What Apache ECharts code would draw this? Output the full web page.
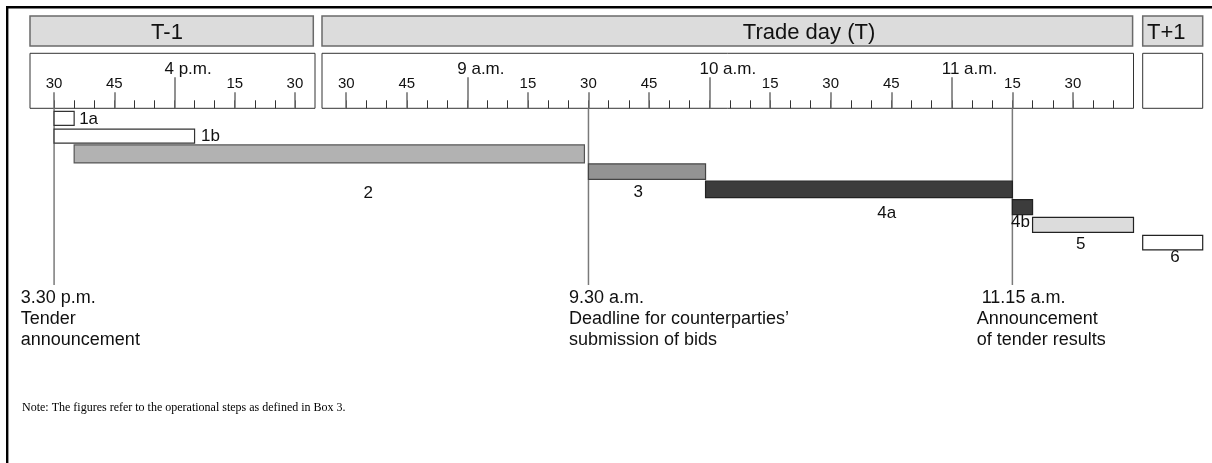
<!DOCTYPE html>
<html>
<head>
<meta charset="utf-8">
<script src="https://cdn.jsdelivr.net/npm/echarts@6/dist/echarts.min.js"></script>
<style>
html,body{margin:0;padding:0;background:#fff;}
#c{width:1212px;height:463px;}
</style>
</head>
<body>
<div id="c"></div>
<script>
// ================= DATA =================
const dayKeys   = ['T-1', 'T', 'T+1'];
const dayTitles = ['T-1', 'Trade day (T)', 'T+1'];

// visible time window of each day column on the ruler
const t1Range = ['15:24', '16:35'];
const tRange  = ['08:24', '11:45'];

// ruler ticks and labels
const t1QuarterTicks  = ['15:30', '15:45', '16:15', '16:30'];
const t1QuarterLabels = ['30', '45', '15', '30'];
const t1HourTicks     = ['16:00'];
const t1HourLabels    = ['4 p.m.'];
const tQuarterTicks   = ['08:30', '08:45', '09:15', '09:30', '09:45', '10:15', '10:30', '10:45', '11:15', '11:30'];
const tQuarterLabels  = ['30', '45', '15', '30', '45', '15', '30', '45', '15', '30'];
const tHourTicks      = ['09:00', '10:00', '11:00'];
const tHourLabels     = ['9 a.m.', '10 a.m.', '11 a.m.'];
const t1MinorSpan     = ['15:30', '16:30'];
const tMinorSpan      = ['08:30', '11:40'];
const minorStepMin    = 5;

// operational steps (T+1 step spans the whole settlement-day column)
const steps     = ['1a', '1b', '2', '3', '4a', '4b', '5', '6'];
const startDay  = ['T-1', 'T-1', 'T-1', 'T', 'T', 'T', 'T', 'T+1'];
const startTime = ['15:30', '15:30', '15:35', '09:30', '09:59', '11:15', '11:20', null];
const endDay    = ['T-1', 'T-1', 'T', 'T', 'T', 'T', 'T', 'T+1'];
const endTime   = ['15:35', '16:05', '09:29', '09:59', '11:15', '11:20', '11:45', null];

// milestones
const eventDay  = ['T-1', 'T', 'T'];
const eventTime = ['15:30', '09:30', '11:15'];
const eventText = [
  ['3.30 p.m.', 'Tender', 'announcement'],
  ['9.30 a.m.', 'Deadline for counterparties\u2019', 'submission of bids'],
  [' 11.15 a.m.', 'Announcement', 'of tender results']
];
const noteText = 'Note: The figures refer to the operational steps as defined in Box 3.';

// ================= LAYOUT / STYLE =================
const FONT  = '"Liberation Sans", Arial, Helvetica, sans-serif';
const SERIF = '"Liberation Serif", "Times New Roman", serif';
const cols = {
  'T-1': { left: 30,     width: 285 },
  'T':   { left: 322,    width: 811.5 },
  'T+1': { left: 1142.7, width: 60 }
};
const header = { top: 16, height: 30, widths: { 'T-1': 283.3, 'T': 810.6, 'T+1': 60 } };
const headerText = { 'T-1': { x: 167, align: 'center' }, 'T': { x: 809, align: 'center' }, 'T+1': { x: 1147, align: 'left' } };
const ruler = { top: 53.3, height: 55 };
const rulerBottom = ruler.top + ruler.height;
const barsArea = { top: 109.5, height: 142 };
const hourLabelLeadMin = 2.5;
const eventLineBottom = 285;
const eventTextTop = 287.5;
const eventTextShift = [-33.3, -19.5, -35.7];

const stepStyle = {
  '1a': { fill: '#ffffff', stroke: '#333333', h: 14 },
  '1b': { fill: '#ffffff', stroke: '#333333', h: 14 },
  '2':  { fill: '#b2b2b2', stroke: '#555555', h: 18 },
  '3':  { fill: '#939393', stroke: '#444444', h: 15.5 },
  '4a': { fill: '#3c3c3c', stroke: '#222222', h: 16.5 },
  '4b': { fill: '#3c3c3c', stroke: '#222222', h: 15 },
  '5':  { fill: '#dcdcdc', stroke: '#222222', h: 15 },
  '6':  { fill: '#ffffff', stroke: '#222222', h: 14.5 }
};
const stepLabel = {
  '1a': { pos: 'right', dx: 5,    dy: 0.5 },
  '1b': { pos: 'right', dx: 6.5,  dy: 0.5 },
  '2':  { pos: 'below', dx: 39,   dy: 39.5 },
  '3':  { pos: 'below', dx: -8.7, dy: 20.8 },
  '4a': { pos: 'below', dx: 27.7, dy: 24 },
  '4b': { pos: 'below', dx: -2,   dy: 15.6 },
  '5':  { pos: 'below', dx: -2.2, dy: 19.8 },
  '6':  { pos: 'below', dx: 2.4,  dy: 14.7 }
};

// ================= HELPERS =================
const toMin = s => { const p = s.split(':').map(Number); return p[0] * 60 + p[1]; };
function stepValues(span) {
  const out = [];
  for (let v = toMin(span[0]); v <= toMin(span[1]); v += minorStepMin) out.push(v);
  return out;
}
const chart = echarts.init(document.getElementById('c'), null, { renderer: 'canvas' });
const baseAxisIndex = { 'T-1': 0, 'T': 3, 'T+1': 6 };
function px(day, time, which) {
  const v = day === 'T+1' ? (which === 'end' ? 1 : 0) : toMin(time);
  return chart.convertToPixel({ xAxisIndex: baseAxisIndex[day] }, v);
}

function rulerAxes(gridIndex, range, qTicks, qLabels, hTicks, hLabels, minorSpan) {
  const min = toMin(range[0]), max = toMin(range[1]);
  const qMap = {}; qTicks.forEach((t, i) => { qMap[toMin(t)] = qLabels[i]; });
  const hMap = {}; hTicks.forEach((t, i) => { hMap[toMin(t) - hourLabelLeadMin] = hLabels[i]; });
  const common = {
    gridIndex, type: 'value', min, max, position: 'bottom',
    axisLine: { show: false, onZero: false }, splitLine: { show: false }
  };
  return [
    Object.assign({}, common, {
      axisTick: { show: true, inside: true, length: 8, customValues: stepValues(minorSpan),
        lineStyle: { color: '#333', width: 1 } },
      axisLabel: { show: false }
    }),
    Object.assign({}, common, {
      axisTick: { show: true, inside: true, length: 16, customValues: qTicks.map(toMin),
        lineStyle: { color: '#6e6e6e', width: 1.5 } },
      axisLabel: { show: true, inside: true, margin: 17, customValues: qTicks.map(toMin),
        formatter: v => qMap[v] || '', color: '#111', fontSize: 15, fontFamily: FONT, align: 'center' }
    }),
    Object.assign({}, common, {
      axisTick: { show: true, inside: true, length: 31, customValues: hTicks.map(toMin),
        lineStyle: { color: '#6e6e6e', width: 1.5 } },
      axisLabel: { show: true, inside: true, margin: 30, customValues: hTicks.map(t => toMin(t) - hourLabelLeadMin),
        formatter: v => hMap[v] || '', color: '#111', fontSize: 17, fontFamily: FONT, align: 'left' }
    })
  ];
}

// ================= OPTION =================
const grids = dayKeys.map(k => ({
  left: cols[k].left, top: ruler.top, width: cols[k].width, height: ruler.height,
  show: true, borderColor: '#333', borderWidth: 1, backgroundColor: '#fff',
  containLabel: false, outerBoundsMode: 'none'
}));
grids.push({ left: 0, top: barsArea.top, width: 1212, height: barsArea.height, containLabel: false, outerBoundsMode: 'none' });

const xAxes = []
  .concat(rulerAxes(0, t1Range, t1QuarterTicks, t1QuarterLabels, t1HourTicks, t1HourLabels, t1MinorSpan))
  .concat(rulerAxes(1, tRange, tQuarterTicks, tQuarterLabels, tHourTicks, tHourLabels, tMinorSpan))
  .concat([{ gridIndex: 2, type: 'value', min: 0, max: 1, show: false, splitLine: { show: false } }])
  .concat([{ gridIndex: 3, type: 'value', min: 0, max: 1, show: false, splitLine: { show: false } }]);

const yAxes = [0, 1, 2].map(g => ({ gridIndex: g, type: 'value', min: 0, max: 1, show: false, splitLine: { show: false } }));
yAxes.push({ gridIndex: 3, type: 'category', data: steps, inverse: true, show: false });

const graphics = [
  { type: 'rect', silent: true, z: 0, shape: { x: 7.2, y: 7.2, width: 1260, height: 520 },
    style: { fill: 'none', stroke: '#000', lineWidth: 2.4 } }
];
dayKeys.forEach((k, i) => {
  graphics.push({ type: 'rect', silent: true, z: 1,
    shape: { x: cols[k].left, y: header.top, width: header.widths[k], height: header.height },
    style: { fill: '#dcdcdc', stroke: '#6a6a6a', lineWidth: 1.5 } });
  graphics.push({ type: 'text', silent: true, z: 2, x: headerText[k].x, y: header.top + header.height / 2 + 1.5,
    style: { text: dayTitles[i], fill: '#111', font: '22px ' + FONT, align: headerText[k].align, verticalAlign: 'middle' } });
});
graphics.push({ type: 'text', silent: true, z: 2, x: 22, y: 408,
  style: { text: noteText, fill: '#000', font: '12px ' + SERIF, align: 'left', verticalAlign: 'middle' } });

function renderEvent(params, api) {
  const i = params.dataIndex;
  const x = px(eventDay[i], eventTime[i]);
  return { type: 'group', children: [
    { type: 'line', shape: { x1: x, y1: rulerBottom, x2: x, y2: eventLineBottom },
      style: { stroke: '#7a7a7a', lineWidth: 1.5 } },
    { type: 'text', x: x + eventTextShift[i], y: eventTextTop,
      style: { text: eventText[i].join('\n'), fill: '#111', font: '18px ' + FONT, lineHeight: 21,
               align: 'left', verticalAlign: 'top' } }
  ] };
}

function renderBar(params, api) {
  const i = params.dataIndex;
  const key = steps[i];
  const x0 = px(startDay[i], startTime[i], 'start');
  const x1 = px(endDay[i], endTime[i], 'end');
  const yc = api.coord([0, i])[1];
  const st = stepStyle[key];
  const lab = stepLabel[key];
  let tx, align;
  if (lab.pos === 'right') { tx = x1 + lab.dx; align = 'left'; }
  else { tx = (x0 + x1) / 2 + lab.dx; align = 'center'; }
  return { type: 'group', children: [
    { type: 'rect', shape: { x: x0, y: yc - st.h / 2, width: x1 - x0, height: st.h },
      style: { fill: st.fill, stroke: st.stroke, lineWidth: 1.2 } },
    { type: 'text', x: tx, y: yc + lab.dy,
      style: { text: key, fill: '#111', font: '17px ' + FONT, align, verticalAlign: 'middle' } }
  ] };
}

chart.setOption({
  animation: false,
  backgroundColor: '#fff',
  grid: grids,
  xAxis: xAxes,
  yAxis: yAxes,
  graphic: graphics,
  series: [
    { type: 'custom', name: 'events', xAxisIndex: 7, yAxisIndex: 3, clip: false, silent: true, z: 3,
      data: eventTime.map((t, i) => [0, i]), renderItem: renderEvent },
    { type: 'custom', name: 'steps', xAxisIndex: 7, yAxisIndex: 3, clip: false, silent: true, z: 4,
      data: steps.map((s, i) => [0, i]), renderItem: renderBar }
  ]
});
</script>
</body>
</html>
